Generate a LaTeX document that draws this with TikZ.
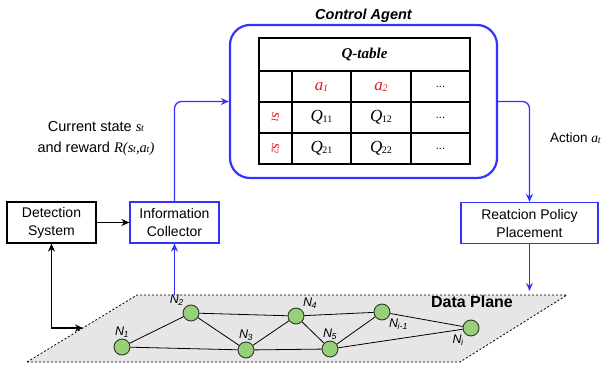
\documentclass[tikz,border=0pt]{standalone}
\usepackage{fontspec}
\setmainfont{Liberation Sans}
\newfontfamily\tablefont{Liberation Serif}
\usepackage{xcolor}
\usetikzlibrary{arrows.meta,positioning}
\definecolor{agentblue}{HTML}{3333FF}
\definecolor{nodegreen}{HTML}{97D077}
\definecolor{planegray}{HTML}{E6E6E6}
\definecolor{qred}{HTML}{E0191E}
\newcommand{\nsub}[1]{\textit{N}\textsubscript{\kern-0.5pt\textit{#1}}}
\newcommand{\qsub}[2]{{\tablefont\textit{#1}\kern-0.3pt\raisebox{-0.4pt}{\fontsize{10}{10}\selectfont #2}}}
\tikzset{
  box/.style={draw=black,line width=1.2pt,align=center,minimum height=41pt,inner sep=2pt,font=\fontsize{14}{18}\selectfont},
  bluebox/.style={box,draw=agentblue},
  agent/.style={draw=agentblue,line width=2.2pt,rounded corners=20pt,minimum width=267pt,minimum height=153pt},
  barrow/.style={draw=agentblue,line width=1.3pt,-{Stealth[length=8pt,width=7pt]}},
  karrow/.style={draw=black,line width=1.3pt,-{Stealth[length=8pt,width=7pt]}},
  swnode/.style={circle,draw=black!80,fill=nodegreen,line width=0.9pt,minimum size=16pt,inner sep=0pt},
  lbl/.style={font=\fontsize{12.5}{12.5}\selectfont,inner sep=1pt},
  cell/.style={font=\fontsize{17}{17}\selectfont\tablefont},
}
\begin{document}
\begin{tikzpicture}[x=1pt,y=-1pt]
\useasboundingbox (0,0) rectangle (606,369);

% data plane
\coordinate (pbl) at (27,362);
\coordinate (ptl) at (137,295);
\coordinate (ptr) at (567,295);
\coordinate (pbr) at (460,362);
\draw[fill=planegray,dashed,dash pattern=on 2pt off 2pt,line width=0.8pt] (pbl) -- (ptl) -- (ptr) -- (pbr) -- cycle;
\node[font=\fontsize{16}{16}\selectfont\bfseries] (dplabel) at (472,302) {Data Plane};

% switches
\node[swnode,label={[lbl]above:\nsub{1}}] (n1) at (122,347) {};
\node[swnode,label={[lbl]above left:\nsub{2}}] (n2) at (191,313) {};
\node[swnode,label={[lbl]above:\nsub{3}}] (n3) at (246,350) {};
\node[swnode,label={[lbl]above right:\nsub{4}}] (n4) at (296,316) {};
\node[swnode,label={[lbl]above:\nsub{5}}] (n5) at (330,349) {};
\node[swnode,label={[lbl]below right:\nsub{i-1}}] (nim) at (382,312) {};
\node[swnode,label={[lbl]below left:\nsub{i}}] (ni) at (471,328) {};
\foreach \a/\b in {n1/n2,n1/n3,n2/n3,n2/n4,n3/n4,n3/n5,n4/n5,n4/nim,n5/nim,n5/ni,nim/ni}
  \draw[line width=0.8pt] (\a) -- (\b);

% boxes
\node[box,minimum width=89pt] (det) at (51.5,222.5) {Detection\\System};
\node[bluebox,minimum width=89pt] (info) at (174.5,222.5) {Information\\Collector};
\node[bluebox,minimum width=137pt] (react) at (529.5,223) {Reatcion Policy\\Placement};

% control agent
\node[agent] (agent) at (363.5,101.5) {};
\node[font=\fontsize{14.5}{14.5}\selectfont\bfseries\itshape,anchor=south] (agtitle) at ([yshift=-2pt]agent.north) {Control Agent};

% Q-table
\draw[line width=1.5pt] (259,38) rectangle (470,164);
\foreach \y in {71,102,133}
  \draw[line width=1.5pt] (259,\y) -- (470,\y);
\foreach \x in {292,351,411}
  \draw[line width=1.5pt] (\x,71) -- (\x,164);
\node[cell,font=\fontsize{15}{15}\selectfont\tablefont\bfseries\itshape] (qtitle) at (364.5,55) {Q-table};
\node[cell,text=qred] (a1) at (321.5,87) {\qsub{a}{\textit{1}}};
\node[cell,text=qred] (a2) at (381,87) {\qsub{a}{\textit{2}}};
\node[cell,text=qred,font=\fontsize{15}{15}\selectfont\tablefont] (s1) at (275.5,117.5) {\rotatebox{-90}{\qsub{s}{\textit{1}}}};
\node[cell,text=qred,font=\fontsize{15}{15}\selectfont\tablefont] (s2) at (275.5,148.5) {\rotatebox{-90}{\qsub{s}{\textit{2}}}};
\foreach \r/\y in {1/117.5,2/148.5}{
  \node[cell] (q\r1) at (321.5,\y) {\qsub{Q}{\r1}};
  \node[cell] (q\r2) at (381,\y) {\qsub{Q}{\r2}};
}
\foreach \n/\y in {d0/87,d1/117.5,d2/148.5}
  \node[cell,font=\fontsize{11}{11}\selectfont] (\n) at (440.5,\y) {...};

% connectors
\draw[karrow] (det) -- (info);
\draw[barrow,rounded corners=7pt] (info.north) |- (agent.west);
\draw[barrow,rounded corners=7pt] (agent.east) -| (react.north);
\coordinate (rtip) at (react.south |- 0,291);
\draw[barrow] (react.south) -- (rtip);
\coordinate (ibase) at (info.south |- ptl);
\draw[barrow] (ibase) -- (info.south);
\coordinate (pedge) at (83,328);
\draw[karrow,{Stealth[length=8pt,width=7pt]}-{Stealth[length=8pt,width=7pt]}] (det.south) |- (pedge);

% labels
\node[align=center,font=\fontsize{14.5}{21}\selectfont] (statelbl) at (96,138) {Current state \qsub{s}{\textit{t}}\\and reward {\tablefont\itshape R(}\qsub{s}{\textit{t}}{\tablefont\itshape ,}\qsub{a}{\textit{t}}{\tablefont\itshape )}};
\node[font=\fontsize{13.5}{13.5}\selectfont,anchor=west,inner sep=1pt] (actlbl) at (549,138) {Action \qsub{a}{\textit{t}}};
\end{tikzpicture}
\end{document}
